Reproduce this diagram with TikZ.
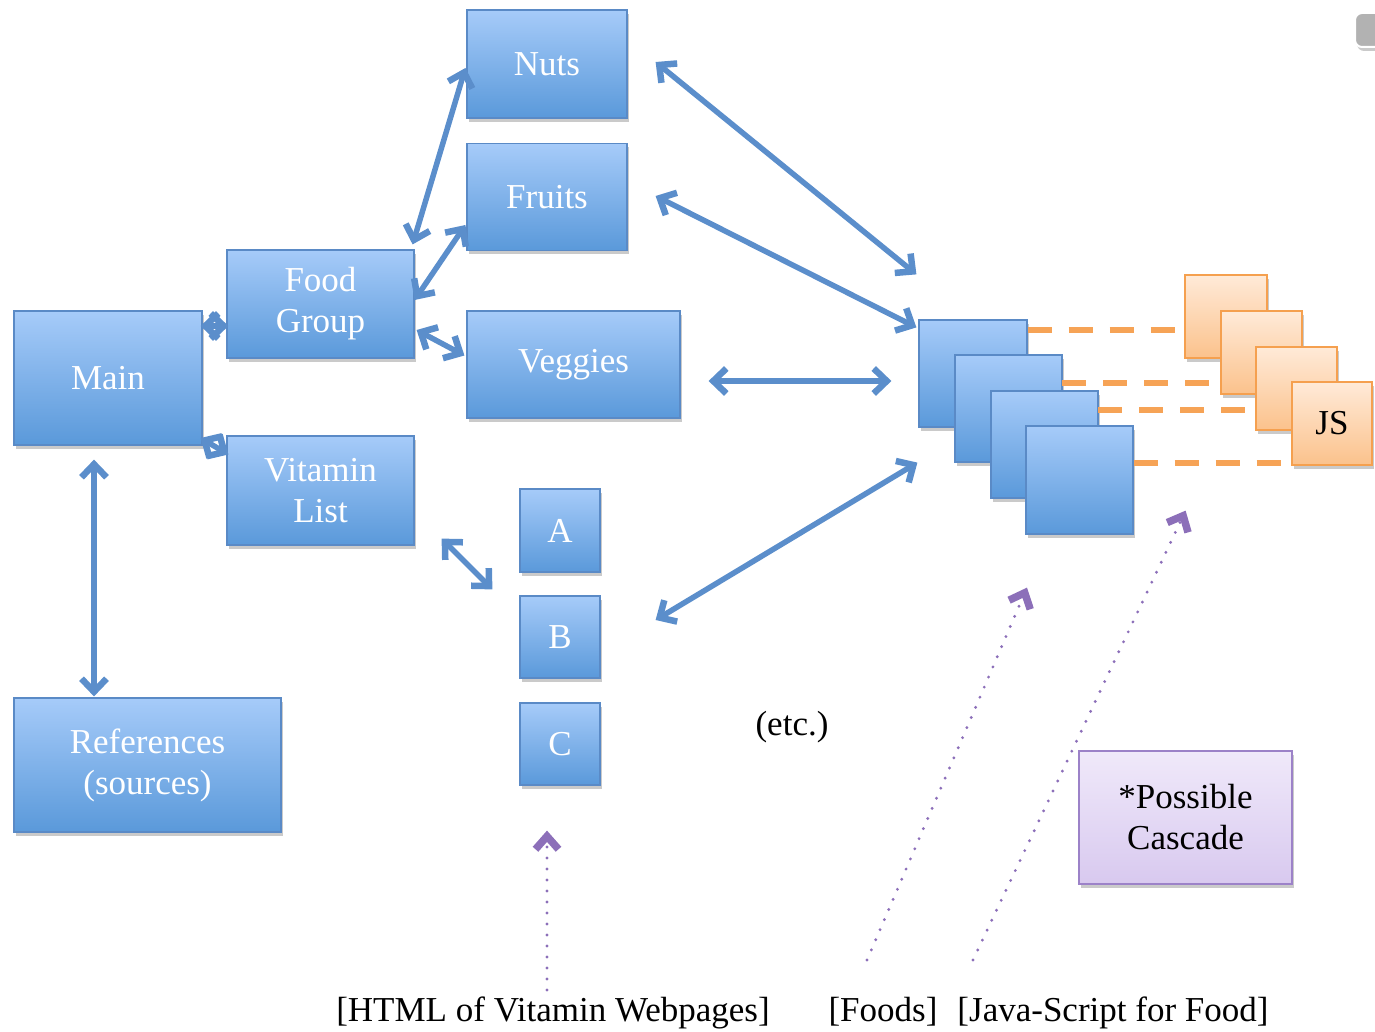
\documentclass[tikz,border=0pt]{standalone}
\usepackage{fontspec}
\setmainfont{Liberation Serif}
\usetikzlibrary{arrows.meta,shadows,calc}
\definecolor{bTop}{HTML}{A6CBF9}
\definecolor{bBot}{HTML}{5A99DA}
\definecolor{bLine}{HTML}{5A8AC6}
\definecolor{arrowc}{HTML}{5B8ECB}
\definecolor{oTop}{HTML}{FFEAD8}
\definecolor{oBot}{HTML}{FBC28C}
\definecolor{oLine}{HTML}{F5A04F}
\definecolor{dashc}{HTML}{F6A356}
\definecolor{pTop}{HTML}{F0E9FA}
\definecolor{pBot}{HTML}{D8C9EF}
\definecolor{pLine}{HTML}{9C82C8}
\definecolor{parrow}{HTML}{8C6FB9}
\tikzset{
  shad/.style={drop shadow={shadow xshift=2pt,shadow yshift=-4pt,opacity=0.35,fill=black!60}},
  bluebox/.style={shad,draw=bLine,line width=1.2pt,top color=bTop,bottom color=bBot,
     text=white,align=center,inner sep=0pt,font=\fontsize{35}{41}\selectfont},
  orangebox/.style={shad,draw=oLine,line width=1.5pt,top color=oTop,bottom color=oBot,
     text=black,align=center,inner sep=0pt,font=\fontsize{35}{41}\selectfont},
  purplebox/.style={shad,draw=pLine,line width=1.5pt,top color=pTop,bottom color=pBot,
     text=black,align=center,inner sep=0pt,font=\fontsize{35}{41}\selectfont},
  lbl/.style={text=black,inner sep=0pt,font=\fontsize{35}{41}\selectfont},
  btip/.tip={Straight Barb[length=13pt,width=25pt,line width=6.5pt]},
  ptip/.tip={Straight Barb[length=13pt,width=23pt,line width=7.5pt]},
  dbl/.style={draw=arrowc,line width=5.5pt,btip-btip},
  dashline/.style={draw=dashc,line width=5.5pt,dash pattern=on 24pt off 17pt},
  dotarrow/.style={draw=parrow,line width=3.2pt,line cap=round,dash pattern=on 0pt off 11pt,-ptip}
}
\begin{document}
\begin{tikzpicture}[x=1pt,y=-1pt]
\useasboundingbox (0,0) rectangle (1375,1032);
\clip (0,0) rectangle (1375,1032);
% grey corner element
\draw[draw=white,line width=2pt,fill=black!30,rounded corners=7pt,shad] (1355,13) rectangle (1410,47);

% main nodes
\node[bluebox,minimum width=160pt,minimum height=108pt] (nuts) at (547,64) {Nuts};
\node[bluebox,minimum width=160pt,minimum height=107pt] (fruits) at (547,197) {Fruits};
\node[bluebox,minimum width=187pt,minimum height=108pt] (food) at (320.5,304) {Food\\Group};
\node[bluebox,minimum width=213pt,minimum height=107pt] (veg) at (573.5,364.5) {Veggies};
\node[bluebox,minimum width=188pt,minimum height=134pt] (main) at (108,378) {Main};
\node[bluebox,minimum width=187pt,minimum height=109pt] (vit) at (320.5,490.5) {Vitamin\\List};
\node[bluebox,minimum width=80pt,minimum height=83pt] (A) at (560,530.5) {A};
\node[bluebox,minimum width=80pt,minimum height=82pt] (B) at (560,637) {B};
\node[bluebox,minimum width=80pt,minimum height=82pt] (C) at (560,744) {C};
\node[bluebox,minimum width=267pt,minimum height=134pt] (refs) at (147.5,765) {References\\(sources)};

% stacked pages
\node[bluebox,minimum width=108pt,minimum height=107pt] (b1) at (973,373.5) {};
\node[bluebox,minimum width=107pt,minimum height=107pt] (b2) at (1008.5,408.5) {};
\node[bluebox,minimum width=107pt,minimum height=107pt] (b3) at (1044.5,444.5) {};
\node[bluebox,minimum width=107pt,minimum height=108pt] (b4) at (1079.5,480) {};

% dashed links to orange pages
\coordinate (y1) at (0,330);
\coordinate (y4) at (0,463);
\draw[dashline] (b1.east |- y1) -- (1185,330);
\draw[dashline] (1062,383) -- (1222,383);
\draw[dashline] (1098,410) -- (1257,410);
\draw[dashline] (b4.east |- y4) -- (1292,463);

\node[orangebox,minimum width=82pt,minimum height=83pt] (o1) at (1226,316.5) {};
\node[orangebox,minimum width=81pt,minimum height=83pt] (o2) at (1261.5,352.5) {};
\node[orangebox,minimum width=81pt,minimum height=83pt] (o3) at (1296.5,388.5) {};
\node[orangebox,minimum width=80pt,minimum height=83pt] (o4) at (1332,423.5) {JS};

% labels
\node[lbl] (etc) at (792,727) {(etc.)};
\node[purplebox,minimum width=213pt,minimum height=133pt] (cascade) at (1185.5,817.5) {*Possible\\Cascade};
\node[lbl,anchor=base] (html) at (553,1021) {[HTML of Vitamin Webpages]};
\node[lbl,anchor=base] (foods) at (883,1021) {[Foods]};
\node[lbl,anchor=base] (jsf) at (1113,1021) {[Java-Script for Food]};

% blue double arrows
\draw[dbl] ($(food.north east)+(-2,-5)$) -- ($(nuts.west)+(-1,4)$);
\draw[dbl] ($(food.east)+(0,-4)$) -- ($(fruits.west)+(-1,28)$);
\draw[dbl] ($(food.east)+(2,26)$) -- ($(veg.west)+(-2,-9)$);
\draw[dbl] ($(main.east)+(-2,-52)$) -- ($(food.west)+(2,22)$);
\draw[dbl] ($(main.east)+(-2,60)$) -- ($(vit.west)+(2,-36)$);
\draw[dbl] ($(main.south)+(-14,14)$) -- ($(refs.north)+(-53.5,-1)$);
\draw[dbl] ($(vit.south east)+(27,-7)$) -- ($(B.north west)+(-27,-6)$);
\draw[dbl] ($(nuts.east)+(28,-2)$) -- ($(b1.north west)+(-2,-45)$);
\draw[dbl] ($(fruits.east)+(28,-1)$) -- ($(b1.north west)+(-2,8)$);
\draw[dbl] ($(veg.east)+(28,16.5)$) -- ($(b1.west)+(-27,7.5)$);
\draw[dbl] ($(B.east)+(55,-17)$) -- ($(b1.south west)+(-1,35)$);

% purple dotted arrows
\coordinate (p1) at (547,990);
\coordinate (p2) at (867,960);
\coordinate (p3) at (973,960);
\draw[dotarrow] (p1) -- ($(C.south)+(-13,45)$);
\draw[dotarrow] (p2) -- ($(b4.south)+(-52.5,53)$);
\draw[dotarrow] (p3) -- ($(b4.south east)+(52,-24)$);
\end{tikzpicture}
\end{document}
